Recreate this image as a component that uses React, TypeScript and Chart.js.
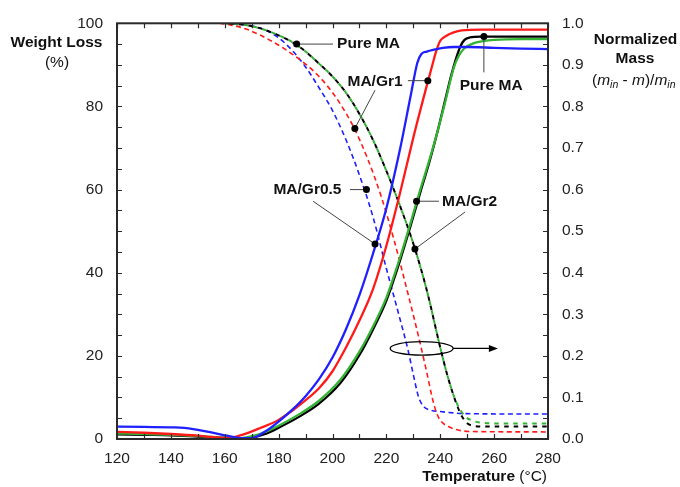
import React, { useEffect, useRef } from 'react';
import { Chart, registerables } from 'chart.js';
Chart.register(...registerables);

// ---- Axis ticks ----
const xTicks = [120, 140, 160, 180, 200, 220, 240, 260, 280];
const yLeftTicks = [0, 20, 40, 60, 80, 100];
const yRightTicks = [0.0, 0.1, 0.2, 0.3, 0.4, 0.5, 0.6, 0.7, 0.8, 0.9, 1.0];

// ---- Weight loss (%) solid lines ----
const gr05T = [120, 130, 140, 145, 150, 155, 160, 163, 166, 170, 175, 180, 185, 190, 195, 200, 205, 210, 215, 220, 225, 229, 231.5, 233, 235, 238, 241, 245, 250, 260, 270, 280];
const gr05W = [3.0, 2.9, 2.8, 2.7, 2.2, 1.6, 0.9, 0.5, 0.2, 0.2, 1.8, 4.2, 7.0, 10.3, 14.4, 19.6, 26.4, 34.6, 44.5, 55.5, 69.5, 82.5, 90.5, 92.6, 93.2, 93.7, 94.1, 94.3, 94.3, 94.1, 93.9, 93.8];

const gr1T = [120, 130, 140, 150, 155, 160, 163, 167, 173, 180, 188, 195, 200, 205, 210, 215, 220, 225, 230, 235, 237, 238.5, 240, 242, 245, 248, 255, 265, 280];
const gr1W = [1.7, 1.5, 1.2, 0.8, 0.5, 0.3, 0.4, 1.1, 2.6, 4.6, 8.3, 12.2, 16.3, 22.0, 28.5, 36.0, 46.5, 59.0, 72.5, 85.0, 89.8, 93.3, 95.8, 96.9, 97.8, 98.3, 98.5, 98.5, 98.5];

const gr2T = [120, 130, 140, 150, 155, 160, 164, 168, 172, 176, 180, 188, 195, 203, 210, 215, 220, 225, 229, 232.5, 236, 239, 242, 245, 247, 249, 252, 256, 260, 270, 280];
const gr2W = [1.3, 1.2, 1.0, 0.7, 0.5, 0.3, 0.1, 0.4, 1.0, 2.0, 3.2, 6.1, 9.2, 14.3, 21.0, 27.0, 34.0, 43.5, 52.0, 59.8, 67.2, 74.0, 81.5, 89.3, 92.3, 94.0, 95.1, 95.7, 96.0, 96.2, 96.2];

const pureT = [120, 130, 140, 150, 155, 160, 165, 170, 175, 180, 188, 195, 203, 210, 215, 220, 225, 229, 232.5, 236, 239, 242, 244, 246, 247.5, 249, 251, 255, 265, 280];
const pureW = [1.1, 1.0, 0.9, 0.6, 0.4, 0.2, 0.0, 0.3, 1.2, 2.7, 5.5, 8.5, 13.5, 20.2, 26.3, 33.3, 42.8, 51.3, 59.1, 66.7, 74.0, 82.0, 87.3, 91.8, 94.5, 96.0, 96.6, 96.8, 96.8, 96.8];

// ---- Normalized mass dashed lines ----
const gr05MT = [160, 165, 170, 175, 180, 185, 190, 195, 200, 205, 210, 215, 220, 225, 228, 230, 232, 234, 236, 240, 250, 280];
const gr05M = [1.0, 0.998, 0.994, 0.984, 0.965, 0.935, 0.895, 0.845, 0.79, 0.72, 0.635, 0.535, 0.41, 0.29, 0.215, 0.155, 0.1, 0.077, 0.07, 0.066, 0.061, 0.06];

const gr1MT = [158, 163, 168, 173, 178, 183, 188, 193, 198, 203, 208, 213, 218, 223, 228, 232, 235, 237, 238.5, 240, 243, 247, 252, 280];
const gr1M = [1.0, 0.995, 0.986, 0.972, 0.955, 0.935, 0.912, 0.885, 0.85, 0.805, 0.748, 0.675, 0.585, 0.475, 0.35, 0.245, 0.16, 0.1, 0.065, 0.045, 0.03, 0.021, 0.018, 0.017];

const gr2MT = [160, 165, 170, 175, 180, 185, 190, 195, 200, 205, 210, 215, 220, 225, 230, 235, 240, 243, 246, 249, 252, 256, 262, 280];
const gr2M = [1.0, 0.998, 0.993, 0.984, 0.971, 0.955, 0.932, 0.903, 0.872, 0.833, 0.782, 0.72, 0.645, 0.562, 0.47, 0.358, 0.22, 0.145, 0.088, 0.056, 0.044, 0.039, 0.037, 0.037];

const pureMT = [160, 165, 170, 175, 180, 185, 190, 195, 200, 205, 210, 215, 220, 225, 230, 235, 240, 243, 246, 248, 250, 252, 255, 280];
const pureM = [1.0, 0.998, 0.993, 0.984, 0.971, 0.955, 0.932, 0.903, 0.872, 0.833, 0.782, 0.72, 0.645, 0.562, 0.47, 0.358, 0.22, 0.145, 0.085, 0.055, 0.038, 0.032, 0.03, 0.03];

const BLUE = '#1f1fff';
const RED = '#ff1a1a';
const GREEN = '#33b233';
const BLACK = '#000000';
const FONT = "'Liberation Sans', Arial, sans-serif";

const pts = (t: number[], v: number[]) => t.map((x, i) => ({ x, y: v[i] }));

const framePlugin = {
  id: 'frame',
  afterDatasetsDraw(chart: any) {
    const { ctx, chartArea: a, scales } = chart;
    const xs = scales.x, yl = scales.y, yr = scales.y2;
    ctx.save();
    ctx.strokeStyle = '#2a2a2a';
    ctx.lineWidth = 1.2;
    const L = 5;
    ctx.beginPath();
    for (let t = 120; t <= 280; t += 10) {
      const px = Math.round(xs.getPixelForValue(t)) + 0.5;
      ctx.moveTo(px, a.bottom); ctx.lineTo(px, a.bottom - L);
      ctx.moveTo(px, a.top); ctx.lineTo(px, a.top + L);
    }
    for (let v = 0; v <= 100; v += 5) {
      const py = Math.round(yl.getPixelForValue(v)) + 0.5;
      ctx.moveTo(a.left, py); ctx.lineTo(a.left + L, py);
    }
    for (let k = 0; k <= 20; k++) {
      const py = Math.round(yr.getPixelForValue(k * 0.05)) + 0.5;
      ctx.moveTo(a.right, py); ctx.lineTo(a.right - L, py);
    }
    ctx.stroke();
    ctx.lineWidth = 2;
    ctx.strokeStyle = '#2a2a2a';
    ctx.strokeRect(a.left, a.top, a.right - a.left, a.bottom - a.top);
    ctx.restore();
  },
};

const annotPlugin = {
  id: 'annot',
  afterDraw(chart: any) {
    const { ctx, scales } = chart;
    const X = (v: number) => scales.x.getPixelForValue(v);
    const Y = (v: number) => scales.y.getPixelForValue(v);
    const Y2 = (v: number) => scales.y2.getPixelForValue(v);
    ctx.save();
    const line = (x1: number, y1: number, x2: number, y2: number, color = '#444') => {
      ctx.strokeStyle = color; ctx.lineWidth = 1;
      ctx.beginPath(); ctx.moveTo(x1, y1); ctx.lineTo(x2, y2); ctx.stroke();
    };
    const dot = (x: number, y: number) => {
      ctx.fillStyle = '#000';
      ctx.beginPath(); ctx.arc(x, y, 3.5, 0, Math.PI * 2); ctx.fill();
    };
    const label = (txt: string, x: number, y: number, align: CanvasTextAlign = 'center') => {
      ctx.fillStyle = '#111';
      ctx.font = `bold 15.5px ${FONT}`;
      ctx.textAlign = align; ctx.textBaseline = 'middle';
      ctx.fillText(txt, x, y);
    };

    // Pure MA (dashed)
    line(X(186.7), Y2(0.95), X(200.2), Y2(0.95));
    dot(X(186.7), Y2(0.95));
    label('Pure MA', X(201.7), Y2(0.95), 'left');

    // MA/Gr1
    line(X(228), Y(86.2), X(235.4), Y(86.2));
    line(X(215.8), Y(83.9), X(208.3), Y2(0.747));
    dot(X(235.4), Y(86.2));
    dot(X(208.3), Y2(0.747));
    label('MA/Gr1', X(215.8), Y(86));

    // MA/Gr0.5
    line(X(206.5), Y2(0.6), X(212.6), Y2(0.6));
    line(X(192.8), Y(57.2), X(215.8), Y(46.9));
    dot(X(212.6), Y2(0.6));
    dot(X(215.8), Y(46.9));
    label('MA/Gr0.5', X(190.7), Y(60));

    // MA/Gr2
    line(X(231.2), Y(57.2), X(239.5), Y(57.2));
    line(X(249.2), Y(54.6), X(230.6), Y2(0.457));
    dot(X(231.2), Y(57.2));
    dot(X(230.6), Y2(0.457));
    label('MA/Gr2', X(250.9), Y(57.2));

    // Pure MA (solid)
    line(X(256.2), Y(88.2), X(256.2), Y(96.8));
    dot(X(256.2), Y(96.8));
    label('Pure MA', X(258.9), Y(85.1));

    // Ellipse + arrow
    ctx.strokeStyle = '#000'; ctx.lineWidth = 1.3;
    ctx.beginPath();
    ctx.ellipse(X(233.1), Y2(0.218), 31.5, 6.8, 0, 0, Math.PI * 2);
    ctx.stroke();
    const ax1 = X(233.1) + 31.5, ax2 = X(261.4), ay = Y2(0.218);
    ctx.beginPath(); ctx.moveTo(ax1, ay); ctx.lineTo(ax2 - 6, ay); ctx.stroke();
    ctx.fillStyle = '#000';
    ctx.beginPath(); ctx.moveTo(ax2, ay); ctx.lineTo(ax2 - 9, ay - 3.5); ctx.lineTo(ax2 - 9, ay + 3.5); ctx.closePath(); ctx.fill();

    // Axis titles
    ctx.fillStyle = '#111';
    ctx.textBaseline = 'middle';
    ctx.textAlign = 'center';
    ctx.font = `bold 15.5px ${FONT}`;
    ctx.fillText('Weight Loss', 56.5, 43);
    ctx.font = `15.5px ${FONT}`;
    ctx.fillText('(%)', 57, 63);
    ctx.font = `bold 15.5px ${FONT}`;
    ctx.fillText('Normalized', 635.5, 40);
    ctx.fillText('Mass', 635, 59);
    // (m_in - m)/m_in
    let cx = 592;
    const by = 81;
    ctx.textAlign = 'left';
    const seg = (txt: string, font: string, dy = 0) => {
      ctx.font = font; ctx.fillText(txt, cx, by + dy); cx += ctx.measureText(txt).width;
    };
    const N = `15.5px ${FONT}`, I = `italic 15.5px ${FONT}`, S = `italic 10.5px ${FONT}`;
    seg('(', N); seg('m', I); seg('in', S, 4); seg(' - ', N); seg('m', I); seg(')/', N); seg('m', I); seg('in', S, 4);
    // Temperature
    ctx.font = `bold 15.5px ${FONT}`;
    ctx.textAlign = 'right';
    ctx.fillText('Temperature', 515, 477);
    ctx.font = `15.5px ${FONT}`;
    ctx.textAlign = 'left';
    ctx.fillText(' (°C)', 515, 477);
    ctx.restore();
  },
};

export default function App() {
  const ref = useRef<HTMLCanvasElement>(null);
  useEffect(() => {
    document.body.style.margin = '0';
    Chart.defaults.font.family = FONT;
    Chart.defaults.font.size = 15.5;
    Chart.defaults.color = '#222';
    const solid = (t: number[], w: number[], c: string) => ({
      data: pts(t, w), yAxisID: 'y', borderColor: c, borderWidth: 2.3,
      pointRadius: 0, cubicInterpolationMode: 'monotone' as const, fill: false,
    });
    const dashed = (t: number[], m: number[], c: string, w: number, dash: number[], off = 0) => ({
      data: pts(t, m), yAxisID: 'y2', borderColor: c, borderWidth: w, borderDash: dash, borderDashOffset: off,
      pointRadius: 0, cubicInterpolationMode: 'monotone' as const, fill: false,
    });
    // Chart.js draws dataset index 0 last (on top)
    const chart = new Chart(ref.current!, {
      type: 'line',
      data: {
        datasets: [
          solid(gr05T, gr05W, BLUE),
          solid(gr1T, gr1W, RED),
          solid(gr2T, gr2W, GREEN),
          solid(pureT, pureW, BLACK),
          dashed(pureMT, pureM, BLACK, 2, [4.5, 5], 4.75),
          dashed(gr2MT, gr2M, GREEN, 2, [4.5, 5]),
          dashed(gr1MT, gr1M, RED, 1.6, [5, 3.5]),
          dashed(gr05MT, gr05M, BLUE, 1.6, [5, 3.5]),
        ] as any,
      },
      options: {
        animation: false,
        responsive: true,
        maintainAspectRatio: false,
        layout: { padding: { top: 16, left: 0, right: 0, bottom: 0 } },
        plugins: { legend: { display: false }, tooltip: { enabled: false } },
        scales: {
          x: {
            type: 'linear', min: xTicks[0], max: xTicks[xTicks.length - 1],
            afterBuildTicks: (s: any) => { s.ticks = xTicks.map((v) => ({ value: v })); },
            ticks: { padding: 10, color: '#222' },
            grid: { display: false, drawTicks: false },
            border: { display: false },
            afterFit: (s: any) => { s.height = 48; },
          },
          y: {
            type: 'linear', position: 'left', min: 0, max: 100,
            afterBuildTicks: (s: any) => { s.ticks = yLeftTicks.map((v) => ({ value: v })); },
            ticks: { padding: 14, color: '#222' },
            grid: { display: false, drawTicks: false },
            border: { display: false },
            afterFit: (s: any) => { s.width = 117; },
          },
          y2: {
            type: 'linear', position: 'right', min: 0, max: 1,
            afterBuildTicks: (s: any) => { s.ticks = yRightTicks.map((v) => ({ value: v })); },
            ticks: { padding: 14, color: '#222', callback: (v: any) => Number(v).toFixed(1) },
            grid: { display: false, drawTicks: false },
            border: { display: false },
            afterFit: (s: any) => { s.width = 132; },
          },
        },
      } as any,
      plugins: [framePlugin, annotPlugin],
    });
    return () => chart.destroy();
  }, []);
  return (
    <div style={{ position: 'relative', width: 680, height: 487 }}>
      <canvas ref={ref} />
    </div>
  );
}
